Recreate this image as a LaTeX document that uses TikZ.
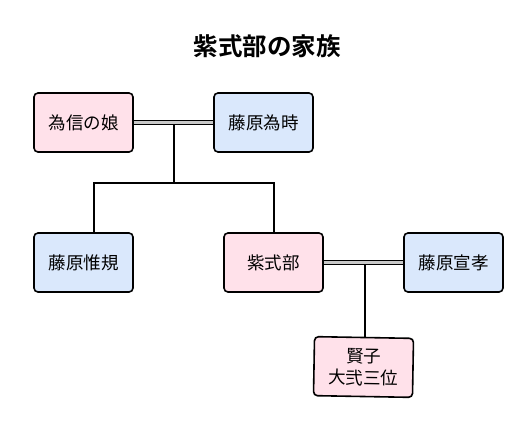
\documentclass[tikz,border=0pt]{standalone}
\usepackage{fontspec}
\newfontfamily\jp{Noto Sans CJK JP}
\newfontfamily\jpb{Noto Sans CJK JP Bold}
\begin{document}
\begin{tikzpicture}[x=1pt,y=-1pt,
  person/.style={draw=black,line width=1.6pt,rounded corners=4pt,minimum width=99pt,minimum height=59pt,inner sep=0pt,font=\jp\fontsize{17.5}{22}\selectfont,align=center},
  female/.style={person,fill={rgb,255:red,255;green,225;blue,234}},
  male/.style={person,fill={rgb,255:red,218;green,232;blue,252}},
  marriage/.style={draw=black,line width=1.2pt,double={rgb,255:red,200;green,200;blue,200},double distance=2.6pt},
  line/.style={draw=black,line width=1.6pt}]
\useasboundingbox (0,0) rectangle (532,432);
\node[font=\jpb\fontsize{24.5}{28}\selectfont] (title) at (267,46) {紫式部の家族};
\node[female] (musume) at (83.5,122.5) {為信の娘};
\node[male] (tametoki) at (263.5,122.5) {藤原為時};
\node[male] (nobunori) at (83.5,262.5) {藤原惟規};
\node[female] (murasaki) at (273.5,262.5) {紫式部};
\node[male] (nobutaka) at (453.5,262.5) {藤原宣孝};
\node[female,rotate=-1] (katako) at (363.5,367) {賢子\\大弐三位};
\coordinate (m1) at (174,124.5);
\coordinate (m2) at (365,264.5);
\coordinate (j1) at (174,183);
\path[marriage] (musume.east) -- (tametoki.west);
\path[marriage] (murasaki.east) -- (nobutaka.west);
\draw[line] (m1) -- (j1);
\draw[line] (j1) -| ([xshift=10.5pt]nobunori.north);
\draw[line] (j1) -| ([xshift=0.5pt]murasaki.north);
\draw[line] (m2) -- (m2 |- katako.north);
\end{tikzpicture}
\end{document}
